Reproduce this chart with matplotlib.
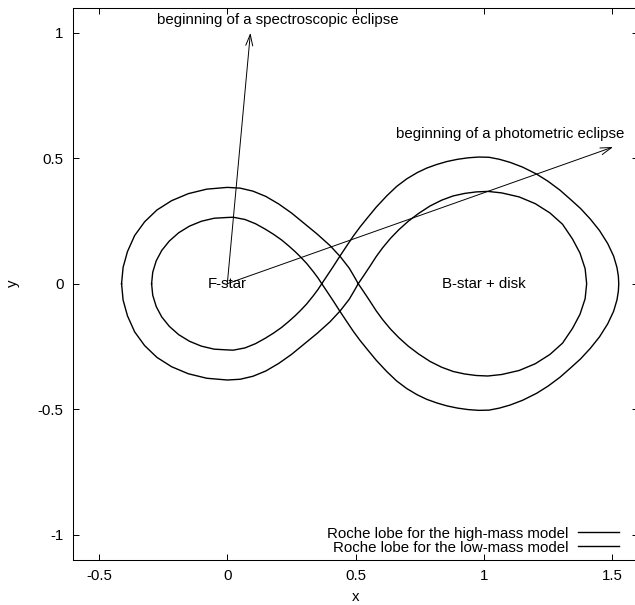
"""
roche_lobes.py — critical Roche lobes of the F-star / B-star binary for two mass models.
"""

import numpy as np
import matplotlib
matplotlib.use("Agg")
import matplotlib.pyplot as plt

plt.rcParams.update({
    "font.family": ["Liberation Sans", "DejaVu Sans"],
    "font.size": 10.8,
    "axes.linewidth": 0.75,
})

# ── Upper halves of the lobes (y >= 0), separation = 1, F-star at x = 0 ──────
# high-mass model: small F-star lobe, large B-star lobe
high_x = [-0.295, -0.2905, -0.277, -0.2555, -0.226, -0.1896, -0.1475, -0.1009, -0.0512,
          0.000, 0.023, 0.069, 0.110, 0.147, 0.180, 0.212, 0.240, 0.264, 0.285,
          0.309, 0.335, 0.354, 0.368,
          0.387, 0.413, 0.440, 0.466, 0.491, 0.517, 0.543, 0.580, 0.621, 0.660,
          0.699, 0.740, 0.777, 0.815, 0.855, 0.897, 0.939, 0.980, 1.020, 1.060,
          1.101, 1.150, 1.205, 1.250, 1.296, 1.336, 1.376, 1.414, 1.450, 1.482,
          1.505, 1.518, 1.5235, 1.525]
high_y = [0.000, 0.046, 0.091, 0.1325, 0.170, 0.203, 0.2295, 0.249, 0.261,
          0.264, 0.265, 0.256, 0.239, 0.218, 0.197, 0.174, 0.150, 0.128, 0.107,
          0.081, 0.048, 0.022, 0.000,
          0.029, 0.069, 0.112, 0.152, 0.190, 0.226, 0.259, 0.305, 0.350, 0.388,
          0.418, 0.443, 0.461, 0.475, 0.487, 0.496, 0.502, 0.505, 0.504, 0.496,
          0.484, 0.465, 0.437, 0.408, 0.373, 0.337, 0.300, 0.258, 0.212, 0.160,
          0.110, 0.065, 0.030, 0.000]

# low-mass model: larger F-star lobe, smaller B-star lobe
low_x = [-0.412, -0.406, -0.389, -0.361, -0.322, -0.274, -0.217, -0.152, -0.080,
         0.000, 0.050, 0.100, 0.150, 0.200, 0.250, 0.300, 0.350, 0.400, 0.440,
         0.475, 0.494, 0.510,
         0.530, 0.556, 0.580, 0.605, 0.635, 0.668, 0.705, 0.745, 0.790, 0.835,
         0.880, 0.925, 0.970, 1.015, 1.069, 1.137, 1.200, 1.257, 1.306, 1.345,
         1.374, 1.394, 1.400]
low_y = [0.000, 0.065, 0.128, 0.192, 0.247, 0.294, 0.331, 0.359, 0.377,
         0.384, 0.381, 0.369, 0.348, 0.318, 0.282, 0.240, 0.198, 0.152, 0.108,
         0.062, 0.029, 0.000,
         0.030, 0.070, 0.108, 0.143, 0.180, 0.215, 0.249, 0.280, 0.310, 0.333,
         0.350, 0.360, 0.366, 0.368, 0.362, 0.346, 0.319, 0.282, 0.237, 0.178,
         0.122, 0.060, 0.000]

labels = ["Roche lobe for the high-mass model", "Roche lobe for the low-mass model"]

# eclipse-onset directions seen from the F-star
spec_tip = (0.09, 1.0)
phot_tip = (1.503, 0.545)

x_ticks = [-0.5, 0, 0.5, 1, 1.5]
y_ticks = [-1, -0.5, 0, 0.5, 1]


def closed_lobe(xs, ys):
    """Mirror an upper-half outline about y = 0 into a closed curve."""
    xs, ys = np.asarray(xs), np.asarray(ys)
    return np.r_[xs, xs[::-1]], np.r_[ys, -ys[::-1]]


fig = plt.figure(figsize=(6.35, 6.05), dpi=100)
ax = fig.add_axes([73.3 / 635, 45.4 / 605, 564.7 / 635, 551.8 / 605])

for (xs, ys), lab in zip([(high_x, high_y), (low_x, low_y)], labels):
    cx, cy = closed_lobe(xs, ys)
    ax.plot(cx, cy, color="black", lw=1.0, label=lab, solid_joinstyle="round")

arrow = dict(arrowstyle="->,head_length=0.8,head_width=0.25", color="black",
             lw=0.7, shrinkA=0, shrinkB=0, mutation_scale=10)
ax.annotate("", xy=spec_tip, xytext=(0, 0), arrowprops=arrow)
ax.annotate("", xy=phot_tip, xytext=(0, 0), arrowprops=arrow)

ax.text(-0.273, 1.05, "beginning of a spectroscopic eclipse", ha="left", va="center")
ax.text(0.657, 0.597, "beginning of a photometric eclipse", ha="left", va="center")
ax.text(0, 0, "F-star", ha="center", va="center")
ax.text(1, 0, "B-star + disk", ha="center", va="center")

ax.set_xlim(-0.6, 1.6)
ax.set_ylim(-1.1, 1.1)
ax.set_xticks(x_ticks)
ax.set_xticklabels([f"{t:g}" for t in x_ticks])
ax.set_yticks(y_ticks)
ax.set_yticklabels([f"{t:g}" for t in y_ticks])
ax.tick_params(direction="in", length=4.3, width=0.7, top=True, right=True)
ax.tick_params(axis="x", pad=7)
ax.tick_params(axis="y", pad=7)
ax.set_xlabel("x", labelpad=5)
ax.set_ylabel("y", labelpad=13)

ax.legend(loc="lower right", bbox_to_anchor=(0.9664, 0.009), frameon=False,
          markerfirst=False, handlelength=2.73, handletextpad=0.67,
          labelspacing=0.0, borderpad=0, borderaxespad=0)

plt.savefig("out.png", dpi=100)
plt.close()
